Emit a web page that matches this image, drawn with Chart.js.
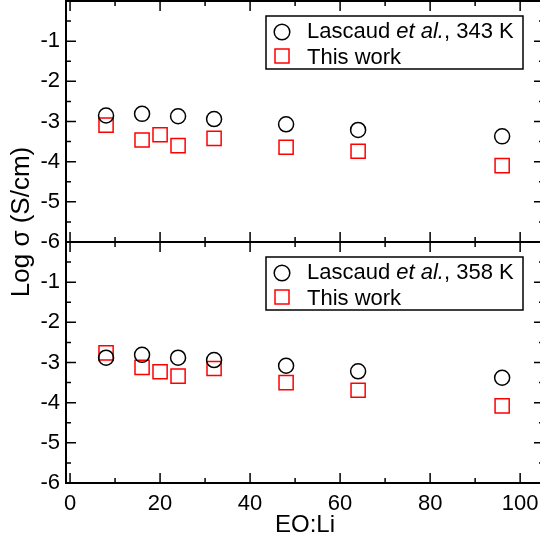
<!DOCTYPE html>
<html>
<head>
<meta charset="utf-8">
<script src="https://cdn.jsdelivr.net/npm/chart.js@4.4.0/dist/chart.umd.min.js"></script>
<style>
  html, body { margin: 0; padding: 0; background: #fff; overflow: hidden; }
  canvas { display: block; }
</style>
</head>
<body>
<canvas id="chart" width="550" height="540"></canvas>
<script>
// EO:Li ratios
const eoLiLascaud = [8, 16, 24, 32, 48, 64, 96];
const eoLiThisWork = [8, 16, 20, 24, 32, 48, 64, 96];

// log sigma values
const lascaud343 = [-2.85, -2.81, -2.87, -2.94, -3.07, -3.21, -3.37];
const thisWork343 = [-3.09, -3.46, -3.33, -3.60, -3.42, -3.64, -3.74, -4.10];
const lascaud358 = [-2.88, -2.81, -2.88, -2.94, -3.08, -3.22, -3.38];
const thisWork358 = [-2.76, -3.12, -3.23, -3.34, -3.15, -3.50, -3.69, -4.08];

// legend text, pieces: [normal, italic, normal]
const legendTop = ['Lascaud ', 'et al.', ', 343 K'];
const legendBot = ['Lascaud ', 'et al.', ', 358 K'];
const legendThisWork = 'This work';

const xTicks = [0, 20, 40, 60, 80, 100];
const xMinorTicks = [10, 30, 50, 70, 90];
const yTicks = [-6, -5, -4, -3, -2, -1];
const yMajorMarks = [-6, -5, -4, -3, -2, -1, 0];
const yMinorMarks = [-5.5, -4.5, -3.5, -2.5, -1.5, -0.5];

const FONT = '"Liberation Sans", Arial, Helvetica, sans-serif';

function pts(xs, ys) {
    return xs.map((x, i) => ({ x: x, y: ys[i] }));
}

function circleSet(label, xs, ys, axis) {
    return {
        label: label, data: pts(xs, ys), yAxisID: axis,
        pointStyle: 'circle', pointRadius: 7.5, pointHoverRadius: 7.5,
        borderColor: '#000', backgroundColor: 'rgba(0,0,0,0)', borderWidth: 1.5, showLine: false
    };
}

function squareSet(label, xs, ys, axis) {
    return {
        label: label, data: pts(xs, ys), yAxisID: axis,
        pointStyle: 'rect', pointRadius: 10, pointHoverRadius: 10,
        borderColor: '#ff0000', backgroundColor: 'rgba(0,0,0,0)', borderWidth: 1.5, showLine: false
    };
}

function yScale() {
    return {
        type: 'linear', position: 'left', stack: 'panels', stackWeight: 1,
        min: -6, max: 0,
        grid: { display: false, drawTicks: false },
        border: { display: false },
        ticks: { color: '#000', font: { family: FONT, size: 22 }, padding: 6, autoSkip: false },
        afterBuildTicks: s => { s.ticks = yTicks.map(v => ({ value: v })); },
        afterFit: s => { s.width = 66; s.paddingTop = 0; s.paddingBottom = 0; }
    };
}

// frame, inward ticks, legends and y title
const framePlugin = {
    id: 'frames',
    afterDraw(chart) {
        const ctx = chart.ctx;
        const xs = chart.scales.x;
        const left = chart.chartArea.left, right = chart.chartArea.right;
        ctx.save();
        ctx.strokeStyle = '#000';

        ['yTop', 'yBot'].forEach(id => {
            const ys = chart.scales[id];
            ctx.lineWidth = 1.5;
            ctx.beginPath();
            const yMark = (vals, len) => vals.forEach(v => {
                const py = ys.getPixelForValue(v);
                ctx.moveTo(left, py); ctx.lineTo(left + len, py);
                ctx.moveTo(right, py); ctx.lineTo(right - len, py);
            });
            const xMark = (vals, len) => vals.forEach(v => {
                const px = xs.getPixelForValue(v);
                ctx.moveTo(px, ys.top); ctx.lineTo(px, ys.top + len);
                ctx.moveTo(px, ys.bottom); ctx.lineTo(px, ys.bottom - len);
            });
            yMark(yMajorMarks, 10);
            yMark(yMinorMarks, 5);
            xMark(xTicks, 10);
            xMark(xMinorTicks, 5);
            ctx.stroke();
            ctx.lineWidth = 2;
            ctx.strokeRect(left, ys.top, right - left, ys.bottom - ys.top);

            // legend box
            const parts = id === 'yTop' ? legendTop : legendBot;
            const bx = 266, by = ys.top + 15;
            ctx.lineWidth = 1.5;
            ctx.strokeRect(bx, by, 257, 53);
            ctx.beginPath();
            ctx.arc(282, by + 16, 7.8, 0, Math.PI * 2);
            ctx.stroke();
            ctx.strokeStyle = '#ff0000';
            ctx.strokeRect(275, by + 33, 14, 14);
            ctx.strokeStyle = '#000';

            ctx.fillStyle = '#000';
            ctx.textBaseline = 'alphabetic';
            ctx.textAlign = 'left';
            let tx = 307;
            ctx.font = '22px ' + FONT;
            ctx.fillText(parts[0], tx, by + 22);
            tx += ctx.measureText(parts[0]).width;
            ctx.font = 'italic 22px ' + FONT;
            ctx.fillText(parts[1], tx, by + 22);
            tx += ctx.measureText(parts[1]).width;
            ctx.font = '22px ' + FONT;
            ctx.fillText(parts[2], tx, by + 22);
            ctx.fillText(legendThisWork, 307, by + 48);
        });

        // shared y title
        ctx.translate(22, 222);
        ctx.rotate(-Math.PI / 2);
        ctx.font = '26px ' + FONT;
        ctx.textAlign = 'center';
        ctx.textBaseline = 'middle';
        ctx.fillStyle = '#000';
        ctx.fillText('Log σ (S/cm)', 0, 0);
        ctx.restore();
    }
};

new Chart(document.getElementById('chart'), {
    type: 'scatter',
    data: {
        datasets: [
            circleSet('Lascaud et al., 343 K', eoLiLascaud, lascaud343, 'yTop'),
            squareSet('This work (343 K)', eoLiThisWork, thisWork343, 'yTop'),
            circleSet('Lascaud et al., 358 K', eoLiLascaud, lascaud358, 'yBot'),
            squareSet('This work (358 K)', eoLiThisWork, thisWork358, 'yBot')
        ]
    },
    options: {
        responsive: false,
        animation: false,
        layout: { autoPadding: false, padding: { left: 0, right: 6, top: 1, bottom: 0 } },
        plugins: { legend: { display: false }, tooltip: { enabled: false } },
        scales: {
            x: {
                type: 'linear', position: 'bottom', min: -0.9, max: 105.3,
                grid: { display: false, drawTicks: false },
                border: { display: false },
                ticks: { color: '#000', font: { family: FONT, size: 22 }, padding: 8 },
                afterBuildTicks: s => { s.ticks = xTicks.map(v => ({ value: v })); },
                title: { display: true, text: 'EO:Li', color: '#000', font: { family: FONT, size: 24 }, padding: { top: 0, bottom: 0 } },
                afterFit: s => { s.height = 57; s.paddingLeft = 0; s.paddingRight = 0; }
            },
            // stacked axes: the one listed first ends up at the bottom
            yBot: yScale(),
            yTop: yScale()
        }
    },
    plugins: [framePlugin]
});
</script>
</body>
</html>
